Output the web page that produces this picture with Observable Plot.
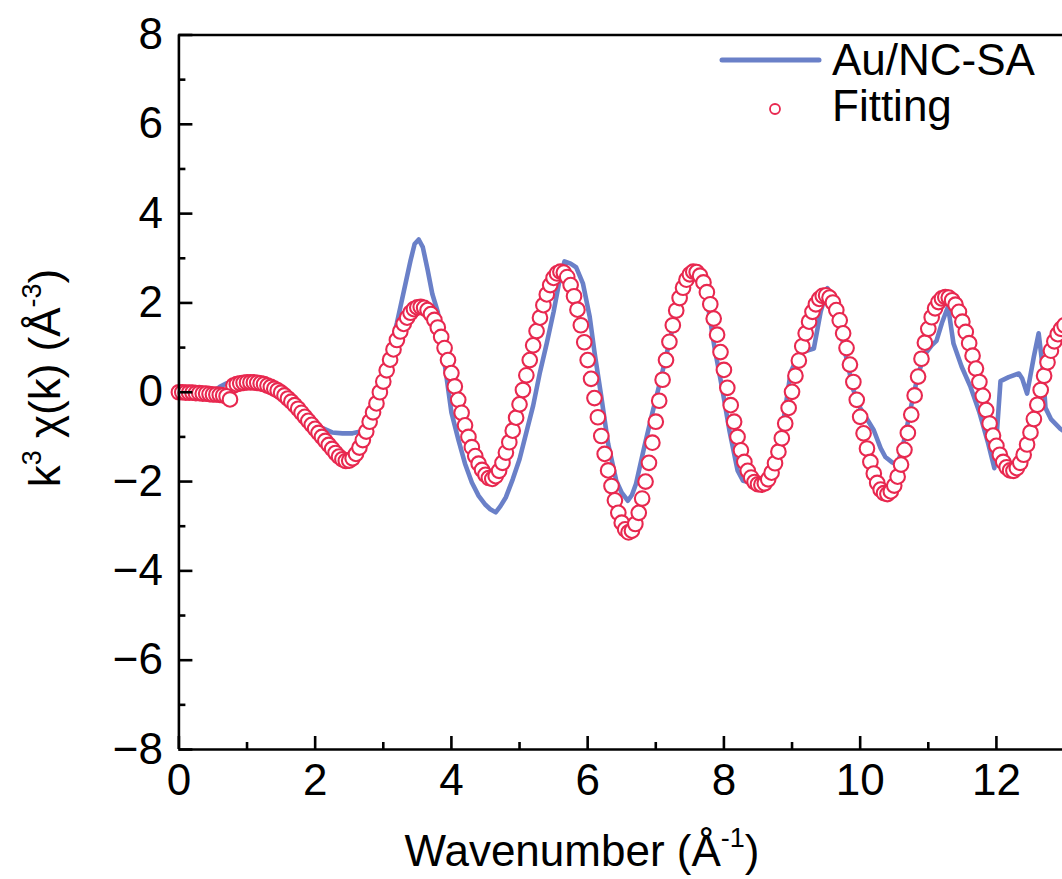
<!DOCTYPE html>
<html>
<head>
<meta charset="utf-8">
<script src="https://cdn.jsdelivr.net/npm/d3@7"></script>
<script src="https://cdn.jsdelivr.net/npm/@observablehq/plot@0.6"></script>
<style>
  html, body { margin: 0; padding: 0; background: white; overflow: hidden; }
  #chart svg { display: block; }
</style>
</head>
<body>
<div id="chart"></div>
<script>
// ---------- data ----------
const xTicks = [0, 2, 4, 6, 8, 10, 12];
const xMinorTicks = [1, 3, 5, 7, 9, 11];
const yTicks = [-8, -6, -4, -2, 0, 2, 4, 6, 8];
const yMinorTicks = [-7, -5, -3, -1, 1, 3, 5, 7];
const seriesNames = ["Au/NC-SA", "Fitting"];

// experimental curve (Au/NC-SA)
const blueK = [0.00,0.20,0.40,0.50,0.60,0.70,0.80,1.00,1.20,1.40,1.60,1.80,1.95,2.10,2.25,2.40,2.55,2.70,2.80,2.90,
  3.00,3.10,3.20,3.30,3.40,3.46,3.52,3.58,3.65,3.72,3.80,3.90,4.00,4.10,4.20,4.30,4.40,4.50,4.57,4.65,
  4.72,4.80,4.90,5.00,5.10,5.20,5.30,5.40,5.50,5.58,5.66,5.75,5.83,5.93,6.03,6.10,6.20,6.30,6.42,6.50,
  6.59,6.65,6.71,6.83,6.96,7.05,7.15,7.25,7.35,7.45,7.55,7.62,7.70,7.78,7.86,7.98,8.08,8.20,8.28,8.40,
  8.55,8.65,8.75,8.85,8.98,9.10,9.20,9.32,9.42,9.52,9.60,9.70,9.80,9.90,10.00,10.08,10.20,10.30,10.37,10.47,
  10.55,10.65,10.75,10.85,10.95,11.05,11.12,11.20,11.29,11.37,11.49,11.62,11.75,11.88,11.97,12.06,12.18,12.33,12.38,12.45,
  12.55,12.62,12.68,12.72,12.80,12.94,13.00];
const blueY = [0.00,0.00,-0.02,0.00,0.12,0.20,0.22,0.26,0.26,0.18,0.02,-0.30,-0.58,-0.80,-0.90,-0.92,-0.92,-0.87,-0.55,-0.10,
  0.40,0.95,1.55,2.25,2.95,3.32,3.42,3.25,2.75,2.20,1.80,0.65,-0.45,-1.05,-1.60,-2.02,-2.32,-2.52,-2.62,-2.69,
  -2.55,-2.35,-1.95,-1.50,-0.90,-0.30,0.45,1.10,1.80,2.45,2.93,2.88,2.80,2.44,1.69,0.90,-0.10,-1.15,-1.98,-2.25,
  -2.43,-2.30,-2.05,-1.23,-0.40,0.15,0.80,1.45,2.00,2.45,2.62,2.60,2.35,1.80,1.02,0.04,-0.85,-1.75,-1.98,-2.02,
  -2.05,-1.95,-1.55,-0.90,0.45,0.85,0.92,0.98,1.80,2.33,2.05,1.45,0.75,0.05,-0.35,-0.55,-0.85,-1.25,-1.45,-1.57,
  -1.62,-1.05,-0.30,0.40,0.85,1.05,1.15,1.55,1.92,1.09,0.57,0.12,-0.45,-1.15,-1.70,0.25,0.34,0.42,0.30,-0.03,
  0.80,1.32,0.55,-0.35,-0.60,-0.82,-0.88];

// fitting, first short segment
const fitK1 = [0.00,0.05,0.10,0.15,0.20,0.25,0.30,0.35,0.40,0.45,0.50,0.55,0.60,0.65,0.70,0.75];
const fitY1 = [0.00,0.00,-0.01,-0.01,-0.01,-0.02,-0.02,-0.03,-0.03,-0.04,-0.05,-0.05,-0.06,-0.07,-0.09,-0.16];

// fitting, main segment
const fitK2 = [
  0.80,0.85,0.90,0.95,1.00,1.05,1.10,1.15,1.20,1.25,1.30,1.35,1.40,1.45,1.50,1.55,1.60,1.65,1.70,1.75,
  1.80,1.85,1.90,1.95,2.00,2.05,2.10,2.15,2.20,2.25,2.30,2.35,2.40,2.45,2.50,2.55,2.60,2.65,2.70,2.75,
  2.80,2.85,2.90,2.95,3.00,3.05,3.10,3.15,3.20,3.25,3.30,3.35,3.40,3.45,3.50,3.55,3.60,3.65,3.70,3.75,
  3.80,3.85,3.90,3.95,4.00,4.05,4.10,4.15,4.20,4.25,4.30,4.35,4.40,4.45,4.50,4.55,4.60,4.65,4.70,4.75,
  4.80,4.85,4.90,4.95,5.00,5.05,5.10,5.15,5.20,5.25,5.30,5.35,5.40,5.45,5.50,5.55,5.60,5.65,5.70,5.75,
  5.80,5.85,5.90,5.95,6.00,6.05,6.10,6.15,6.20,6.25,6.30,6.35,6.40,6.45,6.50,6.55,6.60,6.65,6.70,6.75,
  6.80,6.85,6.90,6.95,7.00,7.05,7.10,7.15,7.20,7.25,7.30,7.35,7.40,7.45,7.50,7.55,7.60,7.65,7.70,7.75,
  7.80,7.85,7.90,7.95,8.00,8.05,8.10,8.15,8.20,8.25,8.30,8.35,8.40,8.45,8.50,8.55,8.60,8.65,8.70,8.75,
  8.80,8.85,8.90,8.95,9.00,9.05,9.10,9.15,9.20,9.25,9.30,9.35,9.40,9.45,9.50,9.55,9.60,9.65,9.70,9.75,
  9.80,9.85,9.90,9.95,10.00,10.05,10.10,10.15,10.20,10.25,10.30,10.35,10.40,10.45,10.50,10.55,10.60,10.65,10.70,10.75,
  10.80,10.85,10.90,10.95,11.00,11.05,11.10,11.15,11.20,11.25,11.30,11.35,11.40,11.45,11.50,11.55,11.60,11.65,11.70,11.75,
  11.80,11.85,11.90,11.95,12.00,12.05,12.10,12.15,12.20,12.25,12.30,12.35,12.40,12.45,12.50,12.55,12.60,12.65,12.70,12.75,
  12.80,12.85,12.90,12.95,13.00];
const fitY2 = [
  0.15,0.18,0.20,0.21,0.22,0.22,0.22,0.21,0.20,0.18,0.15,0.12,0.08,0.04,-0.01,-0.07,-0.14,-0.21,-0.29,-0.37,
  -0.46,-0.55,-0.64,-0.73,-0.82,-0.91,-1.00,-1.09,-1.18,-1.27,-1.36,-1.44,-1.50,-1.54,-1.53,-1.48,-1.38,-1.24,-1.07,-0.88,
  -0.66,-0.45,-0.25,0.00,0.24,0.49,0.73,0.96,1.17,1.36,1.53,1.67,1.78,1.86,1.90,1.91,1.89,1.84,1.75,1.62,
  1.45,1.24,0.99,0.72,0.43,0.13,-0.17,-0.46,-0.74,-1.00,-1.23,-1.43,-1.60,-1.74,-1.85,-1.92,-1.94,-1.88,-1.76,-1.58,
  -1.35,-1.12,-0.86,-0.57,-0.27,0.05,0.38,0.72,1.05,1.37,1.67,1.95,2.19,2.40,2.56,2.66,2.70,2.68,2.58,2.40,
  2.15,1.85,1.50,1.12,0.72,0.30,-0.13,-0.56,-0.98,-1.38,-1.75,-2.10,-2.42,-2.70,-2.92,-3.07,-3.14,-3.10,-2.95,-2.70,
  -2.38,-2.00,-1.58,-1.13,-0.66,-0.19,0.28,0.72,1.13,1.50,1.83,2.11,2.34,2.52,2.64,2.70,2.69,2.61,2.46,2.24,
  1.97,1.65,1.29,0.90,0.50,0.10,-0.29,-0.66,-1.00,-1.30,-1.56,-1.76,-1.91,-2.01,-2.06,-2.07,-2.04,-1.95,-1.80,-1.59,
  -1.33,-1.03,-0.70,-0.35,0.01,0.37,0.71,1.03,1.32,1.58,1.80,1.97,2.09,2.16,2.17,2.12,2.01,1.84,1.61,1.32,
  0.99,0.62,0.23,-0.17,-0.55,-0.92,-1.26,-1.56,-1.82,-2.03,-2.18,-2.26,-2.28,-2.22,-2.09,-1.89,-1.62,-1.29,-0.91,-0.50,
  -0.07,0.35,0.75,1.11,1.42,1.68,1.88,2.02,2.10,2.13,2.12,2.06,1.96,1.80,1.58,1.35,1.10,0.82,0.53,0.23,
  -0.08,-0.40,-0.70,-0.97,-1.20,-1.40,-1.56,-1.68,-1.75,-1.76,-1.70,-1.58,-1.40,-1.17,-0.90,-0.60,-0.28,0.05,0.37,0.67,
  0.93,1.14,1.30,1.42,1.50];

// ---------- tables ----------
const blueData = blueK.map((k, i) => ({k, y: blueY[i]}));
const fit1 = fitK1.map((k, i) => ({k, y: fitY1[i]}));
const fit2 = fitK2.map((k, i) => ({k, y: fitY2[i]}));

// ---------- layout / style ----------
const W = 1062, H = 879;
const mL = 178.4, mT = 34.5, mB = 130, mR = 0;
const frameW = W - mL - mR, frameH = H - mT - mB;
const xMax = 12.97;
const blue = "#6a80c8";
const red = "#e8284f";
const axisW = 2.6;
const font = "'Liberation Sans', Arial, Helvetica, sans-serif";

const chart = Plot.plot({
  width: W, height: H,
  marginLeft: mL, marginRight: mR, marginTop: mT, marginBottom: mB,
  style: {fontFamily: font, fontSize: "44px", color: "black", background: "white", overflow: "hidden"},
  x: {domain: [0, xMax]},
  y: {domain: [-8, 8]},
  marks: [
    Plot.axisX({ticks: xTicks, tickSize: 0, tickPadding: 14, label: null, tickFormat: d => String(d)}),
    Plot.axisY({ticks: yTicks, tickSize: 0, tickPadding: 16, label: null}),
    Plot.line(blueData, {x: "k", y: "y", stroke: blue, strokeWidth: 4.6, strokeLinejoin: "round", strokeLinecap: "round"}),
    Plot.dot(fit2, {x: "k", y: "y", r: 7.3, stroke: red, fill: "white", strokeWidth: 2.1}),
    Plot.dot(fit1, {x: "k", y: "y", r: 7.3, stroke: red, fill: "white", strokeWidth: 2.1}),
    Plot.ruleY([-8, 8], {stroke: "black", strokeWidth: axisW}),
    Plot.ruleX([0], {stroke: "black", strokeWidth: axisW}),
    Plot.tickX(xTicks, {x: d => d, insetTop: frameH - 13, stroke: "black", strokeWidth: axisW}),
    Plot.tickX(xMinorTicks, {x: d => d, insetTop: frameH - 7, stroke: "black", strokeWidth: axisW}),
    Plot.tickY(yTicks, {y: d => d, insetRight: frameW - 14, stroke: "black", strokeWidth: axisW}),
    Plot.tickY(yMinorTicks, {y: d => d, insetRight: frameW - 7, stroke: "black", strokeWidth: axisW})
  ]
});

document.getElementById("chart").appendChild(chart);

const svg = d3.select(chart);

// x axis title
const xl = svg.append("text")
  .attr("x", 582).attr("y", 866)
  .attr("text-anchor", "middle")
  .attr("font-family", font).attr("font-size", 44).attr("fill", "black");
xl.append("tspan").text("Wavenumber (Å");
xl.append("tspan").attr("font-size", 27).attr("dy", -19).text("-1");
xl.append("tspan").attr("dy", 19).text(")");

// y axis title
const yl = svg.append("text")
  .attr("transform", "translate(60,378) rotate(-90)")
  .attr("text-anchor", "middle")
  .attr("font-family", font).attr("font-size", 44).attr("fill", "black");
yl.append("tspan").text("k");
yl.append("tspan").attr("font-size", 27).attr("dy", -19).text("3");
yl.append("tspan").attr("dy", 19).text(" χ(k) (Å");
yl.append("tspan").attr("font-size", 27).attr("dy", -19).text("-3");
yl.append("tspan").attr("dy", 19).text(")");

// legend
const lg = svg.append("g").attr("font-family", font).attr("font-size", 44).attr("fill", "black").attr("text-anchor", "start");
lg.append("line").attr("x1", 722).attr("x2", 819).attr("y1", 60).attr("y2", 60)
  .attr("stroke", blue).attr("stroke-width", 5).attr("stroke-linecap", "round");
lg.append("text").attr("x", 832).attr("y", 75).attr("text-anchor", "start").text(seriesNames[0]);
lg.append("circle").attr("cx", 775).attr("cy", 109).attr("r", 5)
  .attr("stroke", red).attr("stroke-width", 1.8).attr("fill", "white");
lg.append("text").attr("x", 832).attr("y", 121).attr("text-anchor", "start").text(seriesNames[1]);
</script>
</body>
</html>
